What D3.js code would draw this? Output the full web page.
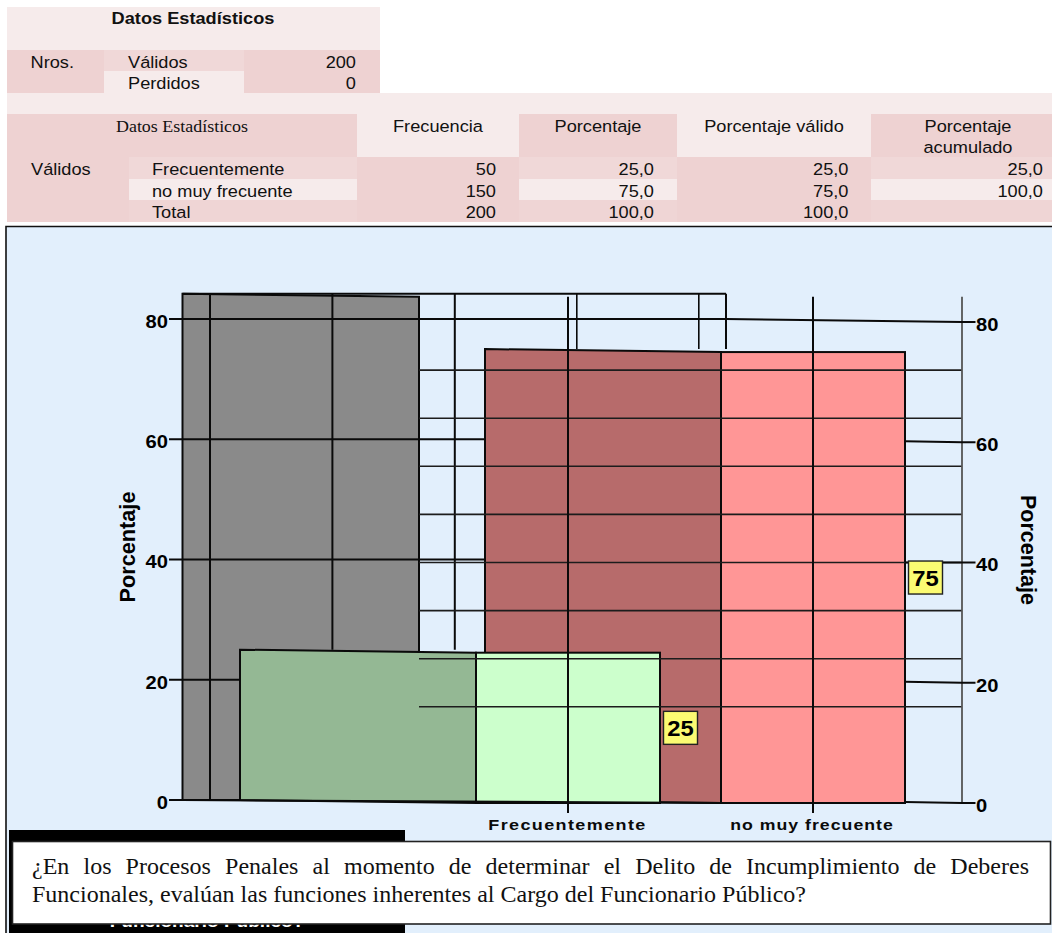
<!DOCTYPE html>
<html lang="es">
<head>
<meta charset="utf-8">
<title>Datos Estadísticos</title>
<script src="https://cdn.jsdelivr.net/npm/d3@7/dist/d3.min.js"></script>
<style>
  html, body { margin: 0; padding: 0; background: #fff; }
  svg { display: block; }
  .sans { font-family: "Liberation Sans", Arial, sans-serif; }
  .serif { font-family: "Liberation Serif", "Times New Roman", serif; }
</style>
</head>
<body>
<svg id="page" width="1052" height="933"></svg>
<script>
// Frequency table and chart values
const categories = ["Frecuentemente", "no muy frecuente"];
const percentages = [25, 75];
const frequencies = ["50", "150", "200"];
const percentColumn = ["25,0", "75,0", "100,0"];
const validColumn = ["25,0", "75,0", "100,0"];
const cumulativeColumn = ["25,0", "100,0", ""];
const rowLabels = ["Frecuentemente", "no muy frecuente", "Total"];
const summaryLabels = ["Válidos", "Perdidos"];
const summaryValues = ["200", "0"];
const axisTicks = [0, 20, 40, 60, 80];
const wallRules = [16, 24, 32, 40, 48, 56, 64, 72];
const axisMax = 84.2;
const captionLines = [
  "¿En los Procesos Penales al momento de determinar el Delito de Incumplimiento de Deberes",
  "Funcionales, evalúan las funciones inherentes al Cargo del Funcionario Público?"
];

const svg = d3.select("#page");
const DARK = "#eed2d2", MID = "#f0d8d8", PALE = "#f6ebeb";

// Widens glyphs slightly so the text keeps its printed proportions
function stretch(sel, k) {
  sel.each(function () {
    const w = this.getComputedTextLength();
    d3.select(this).attr("textLength", w * k).attr("lengthAdjust", "spacingAndGlyphs");
  });
  return sel;
}
function cell(x0, x1, y0, y1, fill) {
  svg.append("rect").attr("x", x0).attr("y", y0)
    .attr("width", x1 - x0).attr("height", y1 - y0).attr("fill", fill);
}
function label(txt, x, y, opts = {}) {
  const t = svg.append("text")
    .attr("class", opts.serif ? "serif" : "sans")
    .attr("x", x).attr("y", y)
    .attr("text-anchor", opts.anchor || "start")
    .attr("font-size", opts.size || 16.7)
    .attr("font-weight", opts.bold ? 700 : 400)
    .attr("fill", "#111")
    .text(txt);
  return stretch(t, opts.k || 1.09);
}

/* ---------- summary table ---------- */
cell(7, 380, 7, 50, PALE);
cell(7, 104, 50, 93, DARK);
cell(104, 244, 50, 71, MID);
cell(104, 244, 71, 93, PALE);
cell(244, 380, 50, 93, DARK);
label("Datos Estadísticos", 193, 24, { bold: true, anchor: "middle" });
label("Nros.", 30.5, 67.5);
const summaryBase = [67.5, 89];
summaryLabels.forEach((s, i) => label(s, 128, summaryBase[i]));
summaryValues.forEach((s, i) => label(s, 356, summaryBase[i], { anchor: "end" }));

/* ---------- frequency table ---------- */
cell(7, 1052, 93, 114, PALE);
const headEdges = [7, 357, 519, 677, 871, 1052];
const headFills = [DARK, PALE, DARK, PALE, DARK];
headFills.forEach((f, i) => cell(headEdges[i], headEdges[i + 1], 114, 157, f));

const rowEdges = [157, 179, 200, 222];
const rowFills = [MID, PALE, "#efd5d5"];
cell(7, 129, 157, 222, DARK);
cell(357, 519, 157, 222, DARK);
cell(677, 871, 157, 222, DARK);
rowFills.forEach((f, i) => {
  cell(129, 357, rowEdges[i], rowEdges[i + 1], f);
  cell(519, 677, rowEdges[i], rowEdges[i + 1], f);
  cell(871, 1052, rowEdges[i], rowEdges[i + 1], f);
});

label("Datos Estadísticos", 182, 132, { serif: true, anchor: "middle", size: 17.6, k: 1.02 });
label("Frecuencia", 438, 132, { anchor: "middle" });
label("Porcentaje", 598, 132, { anchor: "middle" });
label("Porcentaje válido", 774, 132, { anchor: "middle" });
label("Porcentaje", 968, 132, { anchor: "middle" });
label("acumulado", 968, 152.5, { anchor: "middle" });
label("Válidos", 31, 175);
const rowBase = [175, 196.5, 217.5];
rowLabels.forEach((s, i) => label(s, 152, rowBase[i]));
frequencies.forEach((s, i) => label(s, 496, rowBase[i], { anchor: "end" }));
percentColumn.forEach((s, i) => label(s, 654, rowBase[i], { anchor: "end" }));
validColumn.forEach((s, i) => label(s, 848.5, rowBase[i], { anchor: "end" }));
cumulativeColumn.forEach((s, i) => { if (s) label(s, 1043, rowBase[i], { anchor: "end" }); });

/* ---------- chart panel ---------- */
svg.append("rect").attr("x", 6).attr("y", 226.5).attr("width", 1046).attr("height", 706.5)
  .attr("fill", "#e2effc");
svg.append("path").attr("d", "M6,933V226.5H1052").attr("fill", "none").attr("stroke", "#111").attr("stroke-width", 1.6);

const y = d3.scaleLinear().domain([0, 80]).range([800, 319]);      // back plane
const SKEW = 3;                                                    // front plane sits lower
const yFront = v => y(v) + SKEW;
const x = d3.scalePoint().domain(categories).range([568, 813]);    // bar centres on the floor
const BAR_BACK = 328, BAR_FOLD = 92;

const wall = { left: 182.5, right: 419, frameRight: 726, side: 962, tickOutL: 169, tickOutR: 975.5 };
const redLeft = x(categories[1]) - BAR_BACK;
const greenLeft = x(categories[0]) - BAR_BACK;
const redBack = y(percentages[1]);
const greenBack = y(percentages[0]);

const rule = (g, x1, y1, x2, y2, w = 2, c = "#0a0a0a") =>
  g.append("line").attr("x1", x1).attr("y1", y1).attr("x2", x2).attr("y2", y2)
    .attr("stroke", c).attr("stroke-width", w);
const poly = d3.line();

// Back wall with its frame
const back = svg.append("g");
back.append("path")
  .attr("d", poly([[wall.left, y(axisMax)], [wall.right, yFront(axisMax)], [wall.right, y(0)], [wall.left, y(0)]]) + "Z")
  .attr("fill", "#8a8a8a").attr("stroke", "#0a0a0a").attr("stroke-width", 2);
rule(back, wall.left, y(axisMax), wall.frameRight, y(axisMax));
rule(back, wall.frameRight, y(axisMax), wall.frameRight, redBack);

// Vertical wall rules stop where the bars in front of them begin
[210, 332.4, 454.8, 576.8, 698.8].forEach(px => {
  const end = px < greenLeft ? y(0) : px < redLeft ? greenBack : redBack;
  rule(back, px, y(axisMax), px, end, px > 560 ? 1.6 : 2);
});

// Left tick rules run across the wall until a bar hides them
axisTicks.forEach(v => {
  const end = v > percentages[1] ? wall.frameRight
    : v > percentages[0] ? redLeft
    : v > 0 ? greenLeft : wall.left;
  rule(back, wall.tickOutL, y(v), end, y(v));
});

// Bars: a shaded flank and a lit front
const flankFill = ["#94b894", "#b76b6b"];
const frontFill = ["#ccffcc", "#ff9696"];
[1, 0].forEach(i => {
  const c = x(categories[i]), v = percentages[i];
  const left = c - BAR_BACK, fold = c - BAR_FOLD, right = c + BAR_FOLD;
  svg.append("path")
    .attr("d", poly([[left, y(v)], [fold, yFront(v)], [fold, yFront(0)], [left, y(0)]]) + "Z")
    .attr("fill", flankFill[i]).attr("stroke", "#0a0a0a").attr("stroke-width", 2);
  svg.append("rect")
    .attr("x", fold).attr("y", yFront(v)).attr("width", right - fold).attr("height", y(0) - y(v))
    .attr("fill", frontFill[i]).attr("stroke", "#0a0a0a").attr("stroke-width", 2);
});

// Floor edge of the wall
rule(svg, wall.left, y(0), x(categories[1]) - BAR_FOLD, yFront(0), 2);

// Rules on the front plane, drawn over the bars
const front = svg.append("g");
wallRules.forEach(v => rule(front, wall.right, yFront(v), wall.side, yFront(v), 1.6, "#1c1c1c"));
categories.forEach(c => rule(front, x(c), yFront(axisMax), x(c), yFront(0) + 10, 2));
rule(front, wall.side, yFront(axisMax), wall.side, yFront(0), 1.8, "#555");

// Right tick rules
axisTicks.forEach(v => {
  const barRight = x(categories[1]) + BAR_FOLD;
  const start = v > percentages[1] ? [wall.frameRight, y(v)] : [barRight, v === 40 ? yFront(v) : y(v) + 2];
  front.append("path")
    .attr("d", poly([start, [wall.side, yFront(v)], [wall.tickOutR, yFront(v)]]))
    .attr("fill", "none").attr("stroke", "#0a0a0a").attr("stroke-width", 2);
});

// Value flags beside each bar, centred at half the bar's height
percentages.forEach((v, i) => {
  const bx = x(categories[i]) + BAR_FOLD + 3.5, by = yFront(v / 2);
  svg.append("rect").attr("x", bx).attr("y", by - 16.5).attr("width", 34).attr("height", 33)
    .attr("fill", "#fbfb72").attr("stroke", "#222").attr("stroke-width", 1.4);
  stretch(svg.append("text").attr("class", "sans")
    .attr("x", bx + 17).attr("y", by + 8.5).attr("text-anchor", "middle")
    .attr("font-size", 22).attr("font-weight", 700).attr("fill", "#000").text(v), 1.08);
});

// Axes
function styleAxis(g) {
  g.select(".domain").remove();
  g.selectAll("text").attr("class", "sans").attr("font-size", 17.7).attr("font-weight", 700).attr("fill", "#000");
  stretch(g.selectAll("text"), 1.14);
}
svg.append("g").attr("transform", "translate(168,2.6)")
  .call(d3.axisLeft(y).tickValues(axisTicks).tickSize(0).tickPadding(0)).call(styleAxis);
svg.append("g").attr("transform", "translate(976,5.6)")
  .call(d3.axisRight(y).tickValues(axisTicks).tickSize(0).tickPadding(0)).call(styleAxis);

// Category labels under the floor
categories.forEach((c, i) => {
  const t = svg.append("text").attr("class", "sans")
    .attr("x", x(c) - (i === 0 ? 0.5 : 1)).attr("y", 830)
    .attr("text-anchor", "middle").attr("font-size", 15.5).attr("font-weight", 700)
    .attr("letter-spacing", i === 0 ? 1.2 : 0.9).attr("fill", "#0a0a0a").text(c);
  stretch(t, i === 0 ? 1.16 : 1.14);
});

// Axis titles on both sides
svg.append("text").attr("class", "sans").attr("transform", "translate(135,547) rotate(-90)")
  .attr("text-anchor", "middle").attr("font-size", 21.7).attr("font-weight", 700).attr("fill", "#000").text("Porcentaje");
svg.append("text").attr("class", "sans").attr("transform", "translate(1021,550) rotate(90)")
  .attr("text-anchor", "middle").attr("font-size", 21.5).attr("font-weight", 700).attr("fill", "#000").text("Porcentaje");

/* ---------- question caption ---------- */
svg.append("rect").attr("x", 9).attr("y", 830).attr("width", 396).attr("height", 103).attr("fill", "#000");
stretch(svg.append("text").attr("class", "sans").attr("x", 207).attr("y", 926.5)
  .attr("text-anchor", "middle").attr("font-size", 17).attr("font-weight", 700).attr("fill", "#fff")
  .text("Funcionario Público?"), 1.12);
svg.append("rect").attr("x", 12.5).attr("y", 841.5).attr("width", 1038).attr("height", 82.5)
  .attr("fill", "#fff").attr("stroke", "#222").attr("stroke-width", 1.6);

const caption = svg.selectAll("text.caption").data(captionLines).join("text")
  .attr("class", "caption serif").attr("x", 32).attr("y", (d, i) => 874 + i * 28)
  .attr("font-size", 24).attr("fill", "#111").text(d => d);
// First line is justified to the box width by opening up its word gaps
const firstLine = caption.filter((d, i) => i === 0);
const gaps = captionLines[0].split(" ").length - 1;
firstLine.attr("word-spacing", (1029 - 32 - firstLine.node().getComputedTextLength()) / gaps);
</script>
</body>
</html>
